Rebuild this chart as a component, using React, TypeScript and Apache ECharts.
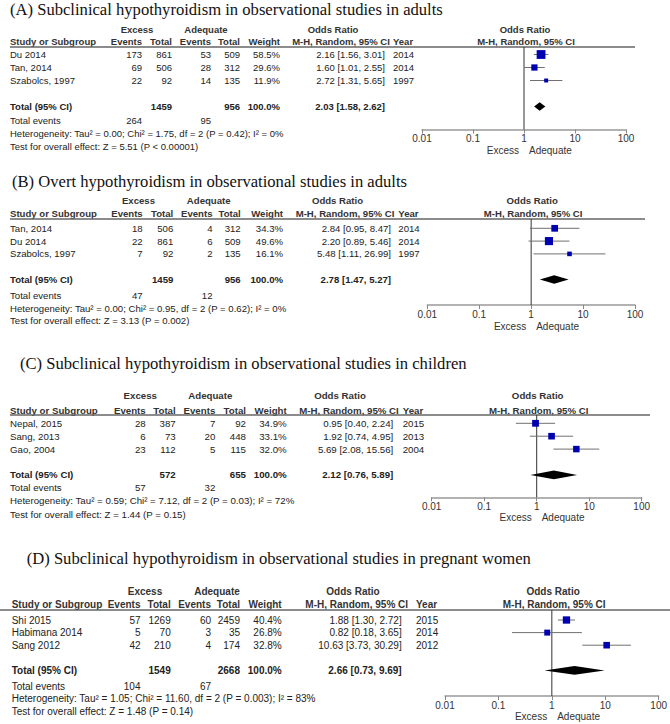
import { useEffect, useRef } from "react";
import * as echarts from "echarts";

const tickLabels = ["0.01", "0.1", "1", "10", "100"];

// ---- Panel A ----
const titleA = "(A) Subclinical hypothyroidism in observational studies in adults";
const studiesA = ["Du 2014", "Tan, 2014", "Szabolcs, 1997"];
const excessEventsA = [173, 69, 22];
const excessTotalA = [861, 506, 92];
const adequateEventsA = [53, 28, 14];
const adequateTotalA = [509, 312, 135];
const weightA = [58.5, 29.6, 11.9];
const orA = [2.16, 1.6, 2.72];
const loA = [1.56, 1.01, 1.31];
const hiA = [3.01, 2.55, 5.65];
const yearA = [2014, 2014, 1997];
const totalsA = [1459, 956];
const pooledA = [2.03, 1.58, 2.62];
const totalEventsA = [264, 95];
const hetA = "Heterogeneity: Tau² = 0.00; Chi² = 1.75, df = 2 (P = 0.42); I² = 0%";
const testA = "Test for overall effect: Z = 5.51 (P < 0.00001)";

// ---- Panel B ----
const titleB = "(B) Overt hypothyroidism in observational studies in adults";
const studiesB = ["Tan, 2014", "Du 2014", "Szabolcs, 1997"];
const excessEventsB = [18, 22, 7];
const excessTotalB = [506, 861, 92];
const adequateEventsB = [4, 6, 2];
const adequateTotalB = [312, 509, 135];
const weightB = [34.3, 49.6, 16.1];
const orB = [2.84, 2.2, 5.48];
const loB = [0.95, 0.89, 1.11];
const hiB = [8.47, 5.46, 26.99];
const yearB = [2014, 2014, 1997];
const totalsB = [1459, 956];
const pooledB = [2.78, 1.47, 5.27];
const totalEventsB = [47, 12];
const hetB = "Heterogeneity: Tau² = 0.00; Chi² = 0.95, df = 2 (P = 0.62); I² = 0%";
const testB = "Test for overall effect: Z = 3.13 (P = 0.002)";

// ---- Panel C ----
const titleC = "(C) Subclinical hypothyroidism in observational studies in children";
const studiesC = ["Nepal, 2015", "Sang, 2013", "Gao, 2004"];
const excessEventsC = [28, 6, 23];
const excessTotalC = [387, 73, 112];
const adequateEventsC = [7, 20, 5];
const adequateTotalC = [92, 448, 115];
const weightC = [34.9, 33.1, 32.0];
const orC = [0.95, 1.92, 5.69];
const loC = [0.4, 0.74, 2.08];
const hiC = [2.24, 4.95, 15.56];
const yearC = [2015, 2013, 2004];
const totalsC = [572, 655];
const pooledC = [2.12, 0.76, 5.89];
const totalEventsC = [57, 32];
const hetC = "Heterogeneity: Tau² = 0.59; Chi² = 7.12, df = 2 (P = 0.03); I² = 72%";
const testC = "Test for overall effect: Z = 1.44 (P = 0.15)";

// ---- Panel D ----
const titleD = "(D) Subclinical hypothyroidism in observational studies in pregnant women";
const studiesD = ["Shi 2015", "Habimana 2014", "Sang 2012"];
const excessEventsD = [57, 5, 42];
const excessTotalD = [1269, 70, 210];
const adequateEventsD = [60, 3, 4];
const adequateTotalD = [2459, 35, 174];
const weightD = [40.4, 26.8, 32.8];
const orD = [1.88, 0.82, 10.63];
const loD = [1.3, 0.18, 3.73];
const hiD = [2.72, 3.65, 30.29];
const yearD = [2015, 2014, 2012];
const totalsD = [1549, 2668];
const pooledD = [2.66, 0.73, 9.69];
const totalEventsD = [104, 67];
const hetD = "Heterogeneity: Tau² = 1.05; Chi² = 11.60, df = 2 (P = 0.003); I² = 83%";
const testD = "Test for overall effect: Z = 1.48 (P = 0.14)";

const panels = [
  { title: titleA, studies: studiesA, exEv: excessEventsA, exTot: excessTotalA, adEv: adequateEventsA, adTot: adequateTotalA, weight: weightA, or: orA, lo: loA, hi: hiA, year: yearA, totals: totalsA, pooled: pooledA, totalEvents: totalEventsA, het: hetA, test: testA },
  { title: titleB, studies: studiesB, exEv: excessEventsB, exTot: excessTotalB, adEv: adequateEventsB, adTot: adequateTotalB, weight: weightB, or: orB, lo: loB, hi: hiB, year: yearB, totals: totalsB, pooled: pooledB, totalEvents: totalEventsB, het: hetB, test: testB },
  { title: titleC, studies: studiesC, exEv: excessEventsC, exTot: excessTotalC, adEv: adequateEventsC, adTot: adequateTotalC, weight: weightC, or: orC, lo: loC, hi: hiC, year: yearC, totals: totalsC, pooled: pooledC, totalEvents: totalEventsC, het: hetC, test: testC },
  { title: titleD, studies: studiesD, exEv: excessEventsD, exTot: excessTotalD, adEv: adequateEventsD, adTot: adequateTotalD, weight: weightD, or: orD, lo: loD, hi: hiD, year: yearD, totals: totalsD, pooled: pooledD, totalEvents: totalEventsD, het: hetD, test: testD },
];

// ---- Layout (pixel positions) ----
const layouts = [
  { fs: 9.5, titleX: 10, titleY: 9, h1: 29, h2: 41, lineY: 47, lineL: 10, lineR: 635, row1: 54.5, rowH: 13, evY: 120, hetY: 133.3, testY: 146, axisY: 129.5, eaY: 150.5,
    studyX: 10, cExEv: 142, cExTot: 172, cAdEv: 211, cAdTot: 240, cW: 280, cCI: 385, cYear: 393, hExcess: 137, hAdequate: 206, hOR: 333, hMH: 341, x0: 422, x1: 626 },
  { fs: 9.6, titleX: 12, titleY: 181.5, h1: 200, h2: 213.3, lineY: 219, lineL: 10, lineR: 645, row1: 228.3, rowH: 12.8, evY: 295, hetY: 308.3, testY: 320.7, axisY: 305, eaY: 326,
    studyX: 10, cExEv: 142.7, cExTot: 173.3, cAdEv: 212.5, cAdTot: 240.7, cW: 283, cCI: 391, cYear: 398.3, hExcess: 138.5, hAdequate: 208.7, hOR: 337.5, hMH: 345, x0: 427.3, x1: 635 },
  { fs: 9.7, titleX: 20, titleY: 363, h1: 395.7, h2: 410, lineY: 415, lineL: 10, lineR: 650, row1: 423.3, rowH: 12.9, evY: 487.7, hetY: 500.7, testY: 514, axisY: 497.3, eaY: 517.3,
    studyX: 10, cExEv: 145.7, cExTot: 175.7, cAdEv: 215.3, cAdTot: 246, cW: 286.7, cCI: 393.3, cYear: 402.7, hExcess: 140.3, hAdequate: 210.3, hOR: 340, hMH: 349, x0: 431.7, x1: 641.7 },
  { fs: 10, titleX: 26.7, titleY: 558, h1: 591.7, h2: 604, lineY: 610, lineL: 0, lineR: 670, row1: 620, rowH: 12.6, evY: 686, hetY: 698.3, testY: 711.7, axisY: 696, eaY: 716.7,
    studyX: 11.7, cExEv: 140.5, cExTot: 170.7, cAdEv: 211, cAdTot: 240, cW: 281.7, cCI: 401.7, cYear: 416, hExcess: 145, hAdequate: 217, hOR: 353, hMH: 356.7, x0: 445, x1: 659.3 },
];

const SANS = '"Liberation Sans", Arial, Helvetica, sans-serif';
const SERIF = '"Liberation Serif", "Times New Roman", Times, serif';
const TEXT = "#222";
const HEAD = "#333";

function txt(x: number, y: number, text: string, size: number, opts: any = {}) {
  return {
    type: "text",
    x,
    y,
    silent: true,
    style: {
      text,
      fill: opts.fill || TEXT,
      fontSize: size,
      fontWeight: opts.bold ? "bold" : "normal",
      fontFamily: opts.family || SANS,
      align: opts.align || "left",
      verticalAlign: "middle",
    },
  };
}

const ci = (o: number, l: number, h: number) => `${o.toFixed(2)} [${l.toFixed(2)}, ${h.toFixed(2)}]`;

export default function App() {
  const ref = useRef<HTMLDivElement>(null);
  useEffect(() => {
    if (!ref.current) return;
    const chart = echarts.init(ref.current, undefined, { renderer: "svg" });
    const grids: any[] = [];
    const xAxes: any[] = [];
    const yAxes: any[] = [];
    const series: any[] = [];
    const elements: any[] = [];

    panels.forEach((p, i) => {
      const L = layouts[i];
      const fs = L.fs;
      const yMin = 1 - (L.row1 - L.lineY) / L.rowH;
      const yMax = 1 + (L.axisY - L.row1) / L.rowH;
      const totalRow = 5;
      grids.push({ left: L.x0, top: L.lineY, width: L.x1 - L.x0, height: L.axisY - L.lineY, containLabel: false });
      xAxes.push({
        type: "log",
        logBase: 10,
        min: 0.01,
        max: 100,
        splitNumber: 4,
        gridIndex: i,
        position: "bottom",
        axisLine: { show: true, onZero: false, lineStyle: { color: "#999", width: 1.5 } },
        axisTick: { show: true, length: 4, lineStyle: { color: "#888", width: 1 } },
        minorTick: { show: false },
        splitLine: { show: false },
        axisLabel: {
          color: "#333",
          fontSize: 10,
          fontFamily: SANS,
          margin: 4,
          formatter: (v: number) => tickLabels[Math.round(Math.log10(v)) + 2] ?? "",
        },
      });
      yAxes.push({ type: "value", gridIndex: i, min: yMin, max: yMax, inverse: true, show: false });

      // vertical line of no effect
      series.push({
        type: "line",
        xAxisIndex: i,
        yAxisIndex: i,
        data: [[1, yMin], [1, yMax]],
        symbol: "none",
        silent: true,
        z: 1,
        lineStyle: { color: "#333", width: 1 },
      });

      const data = p.studies.map((_, j) => [p.or[j], j + 1, p.lo[j], p.hi[j], p.weight[j], 0]);
      data.push([p.pooled[0], totalRow, p.pooled[1], p.pooled[2], 100, 1]);
      series.push({
        type: "custom",
        xAxisIndex: i,
        yAxisIndex: i,
        clip: false,
        silent: true,
        z: 3,
        encode: { x: [0, 2, 3], y: 1 },
        data,
        renderItem: (_params: any, api: any) => {
          const o = api.value(0);
          const r = api.value(1);
          const lo = api.value(2);
          const hi = api.value(3);
          const w = api.value(4);
          const kind = api.value(5);
          const c = api.coord([o, r]);
          const l = api.coord([lo, r]);
          const h = api.coord([hi, r]);
          if (kind === 1) {
            const hh = 4.3;
            return {
              type: "polygon",
              shape: { points: [[l[0], c[1]], [c[0], c[1] - hh], [h[0], c[1]], [c[0], c[1] + hh]] },
              style: { fill: "#000" },
            };
          }
          const s = 1.15 * Math.sqrt(w);
          return {
            type: "group",
            children: [
              { type: "line", shape: { x1: l[0], y1: c[1], x2: h[0], y2: c[1] }, style: { stroke: "#707070", lineWidth: 1 } },
              { type: "rect", shape: { x: c[0] - s / 2, y: c[1] - s / 2, width: s, height: s }, style: { fill: "#0000B0" } },
            ],
          };
        },
      });

      // title
      elements.push(txt(L.titleX, L.titleY, p.title, 16.6, { family: SERIF, fill: "#111" }));
      // headers
      elements.push(txt(L.hExcess, L.h1, "Excess", fs, { bold: true, align: "center", fill: HEAD }));
      elements.push(txt(L.hAdequate, L.h1, "Adequate", fs, { bold: true, align: "center", fill: HEAD }));
      elements.push(txt(L.hOR, L.h1, "Odds Ratio", fs, { bold: true, align: "center", fill: HEAD }));
      const xOne = (L.x0 + L.x1) / 2;
      elements.push(txt(xOne + 1, L.h1, "Odds Ratio", fs, { bold: true, align: "center", fill: HEAD }));
      elements.push(txt(L.studyX, L.h2, "Study or Subgroup", fs, { bold: true, fill: HEAD }));
      elements.push(txt(L.cExEv, L.h2, "Events", fs, { bold: true, align: "right", fill: HEAD }));
      elements.push(txt(L.cExTot, L.h2, "Total", fs, { bold: true, align: "right", fill: HEAD }));
      elements.push(txt(L.cAdEv, L.h2, "Events", fs, { bold: true, align: "right", fill: HEAD }));
      elements.push(txt(L.cAdTot, L.h2, "Total", fs, { bold: true, align: "right", fill: HEAD }));
      elements.push(txt(L.cW, L.h2, "Weight", fs, { bold: true, align: "right", fill: HEAD }));
      elements.push(txt(L.hMH, L.h2, "M-H, Random, 95% CI", fs, { bold: true, align: "center", fill: HEAD }));
      elements.push(txt(L.cYear, L.h2, "Year", fs, { bold: true, fill: HEAD }));
      elements.push(txt(xOne + 2, L.h2, "M-H, Random, 95% CI", fs, { bold: true, align: "center", fill: HEAD }));
      // header rule
      elements.push({
        type: "line",
        silent: true,
        shape: { x1: L.lineL, y1: L.lineY, x2: L.lineR, y2: L.lineY },
        style: { stroke: "#666", lineWidth: 1.5 },
      });
      // study rows
      p.studies.forEach((s, j) => {
        const y = L.row1 + j * L.rowH;
        elements.push(txt(L.studyX, y, s, fs));
        elements.push(txt(L.cExEv, y, String(p.exEv[j]), fs, { align: "right" }));
        elements.push(txt(L.cExTot, y, String(p.exTot[j]), fs, { align: "right" }));
        elements.push(txt(L.cAdEv, y, String(p.adEv[j]), fs, { align: "right" }));
        elements.push(txt(L.cAdTot, y, String(p.adTot[j]), fs, { align: "right" }));
        elements.push(txt(L.cW, y, `${p.weight[j].toFixed(1)}%`, fs, { align: "right" }));
        elements.push(txt(L.cCI, y, ci(p.or[j], p.lo[j], p.hi[j]), fs, { align: "right" }));
        elements.push(txt(L.cYear, y, String(p.year[j]), fs));
      });
      // total row
      const ty = L.row1 + (totalRow - 1) * L.rowH;
      elements.push(txt(L.studyX, ty, "Total (95% CI)", fs, { bold: true }));
      elements.push(txt(L.cExTot, ty, String(p.totals[0]), fs, { bold: true, align: "right" }));
      elements.push(txt(L.cAdTot, ty, String(p.totals[1]), fs, { bold: true, align: "right" }));
      elements.push(txt(L.cW, ty, "100.0%", fs, { bold: true, align: "right" }));
      elements.push(txt(L.cCI, ty, ci(p.pooled[0], p.pooled[1], p.pooled[2]), fs, { bold: true, align: "right" }));
      // total events
      elements.push(txt(L.studyX, L.evY, "Total events", fs));
      elements.push(txt(L.cExEv, L.evY, String(p.totalEvents[0]), fs, { align: "right" }));
      elements.push(txt(L.cAdEv, L.evY, String(p.totalEvents[1]), fs, { align: "right" }));
      elements.push(txt(L.studyX, L.hetY, p.het, fs));
      elements.push(txt(L.studyX, L.testY, p.test, fs));
      // favours labels
      elements.push(txt(xOne - 5, L.eaY, "Excess", 10, { align: "right", fill: "#333" }));
      elements.push(txt(xOne + 5, L.eaY, "Adequate", 10, { fill: "#333" }));
    });

    chart.setOption({
      animation: false,
      backgroundColor: "#fff",
      grid: grids,
      xAxis: xAxes,
      yAxis: yAxes,
      series,
      graphic: { elements },
    });
    return () => chart.dispose();
  }, []);
  return <div ref={ref} style={{ position: "fixed", left: 0, top: 0, width: 670, height: 724, background: "#fff" }} />;
}
